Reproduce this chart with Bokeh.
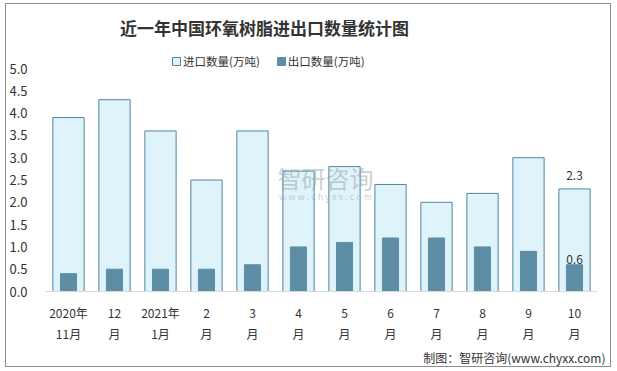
from bokeh.plotting import figure
from bokeh.models import (ColumnDataSource, Label, Legend, LegendItem, FactorRange,
                          Title, PrintfTickFormatter, Range1d)
from bokeh.core.properties import value
from bokeh.embed import file_html
from bokeh.resources import INLINE

categories = ["2020年\n11月", "12\n月", "2021年\n1月", "2\n月", "3\n月", "4\n月",
              "5\n月", "6\n月", "7\n月", "8\n月", "9\n月", "10\n月"]
imports = [3.9, 4.3, 3.6, 2.5, 3.6, 2.7, 2.8, 2.4, 2.0, 2.2, 3.0, 2.3]
exports = [0.4, 0.5, 0.5, 0.5, 0.6, 1.0, 1.1, 1.2, 1.2, 1.0, 0.9, 0.6]
y_ticks = [0.0, 0.5, 1.0, 1.5, 2.0, 2.5, 3.0, 3.5, 4.0, 4.5, 5.0]

FONT = "Noto Sans CJK SC"
W, H = 606, 364

src = ColumnDataSource(dict(cat=categories, imp=imports, exp=exports))

# the frame reaches the top of the canvas; axis ticks stop at 5.0
p = figure(x_range=FactorRange(*categories), y_range=Range1d(0, 6.435), width=W, height=H,
           output_backend="svg", toolbar_location=None, title_location=None,
           min_border_left=38, min_border_right=15, min_border_top=0, min_border_bottom=77)
p.outline_line_color = None
p.xgrid.grid_line_color = None
p.ygrid.grid_line_color = None
p.styles = {"border": "1px solid #8c8c8c", "margin-left": "5px", "margin-top": "3px"}

r_imp = p.vbar(x="cat", top="imp", width=0.68, source=src,
               fill_color="#DFF4FA", line_color="#4F86A0", line_width=1)
r_exp = p.vbar(x="cat", top="exp", width=0.35, source=src,
               fill_color="#5D8EA5", line_color="#5D8EA5", line_width=1)

# value labels on last bars
last = categories[-1]
p.text(x=[last], y=[imports[-1]], text=[f"{imports[-1]:.1f}"], y_offset=-9,
       text_align="center", text_baseline="bottom", text_font=value(FONT),
       text_font_size="12px", text_color="#333333")
p.text(x=[last], y=[exports[-1]], text=[f"{exports[-1]:.1f}"], y_offset=-1,
       text_align="center", text_baseline="bottom", text_font=value(FONT),
       text_font_size="12px", text_color="#333333")

# axes
p.yaxis.ticker = y_ticks
p.yaxis.formatter = PrintfTickFormatter(format="%.1f")
p.yaxis.axis_line_color = None
p.yaxis.major_tick_line_color = None
p.yaxis.minor_tick_line_color = None
p.yaxis.major_label_standoff = 12
p.yaxis.major_label_text_font = FONT
p.yaxis.major_label_text_font_size = "13px"
p.yaxis.major_label_text_color = "#333333"

p.xaxis.axis_line_color = "#d9d9d9"
p.xaxis.major_tick_line_color = None
p.xaxis.major_label_standoff = 6
p.xaxis.major_label_text_font = FONT
p.xaxis.major_label_text_font_size = "12px"
p.xaxis.major_label_text_color = "#333333"
p.xaxis.major_label_text_line_height = 1.25

# legend (inside the extended frame, above the 5.0 tick)
legend = Legend(items=[LegendItem(label="进口数量(万吨)", renderers=[r_imp]),
                       LegendItem(label="出口数量(万吨)", renderers=[r_exp])],
                orientation="horizontal", location=(126, 222),
                border_line_color=None, background_fill_alpha=0,
                glyph_width=10, glyph_height=10, label_standoff=2, spacing=16,
                padding=0, margin=0,
                label_text_font=FONT, label_text_font_size="11.5px",
                label_text_color="#333333")
p.add_layout(legend, "center")

# title
p.add_layout(Label(x=219, y=264, x_units="screen", y_units="screen",
                   text="近一年中国环氧树脂进出口数量统计图", text_align="center",
                   text_baseline="middle", text_font=FONT, text_font_size="17px",
                   text_font_style="bold", text_color="#333333"))

# source note
p.add_layout(Title(text="制图：智研咨询(www.chyxx.com)", align="right", offset=-8,
                   standoff=5, text_font=FONT, text_font_size="12px",
                   text_font_style="normal", text_color="#333333"), "below")

# watermark
p.add_layout(Label(x=280, y=114, x_units="screen", y_units="screen",
                   text="智研咨询", text_align="center", text_baseline="middle",
                   text_font=FONT, text_font_size="24px", text_color="#9aa6ae",
                   text_alpha=0.55))
p.add_layout(Label(x=280, y=95, x_units="screen", y_units="screen",
                   text="w w w . c h y x x . c o m", text_align="center",
                   text_baseline="middle", text_font=FONT, text_font_size="9px",
                   text_color="#9aa6ae", text_alpha=0.55))

open("out.html", "w").write(file_html(p, INLINE))
